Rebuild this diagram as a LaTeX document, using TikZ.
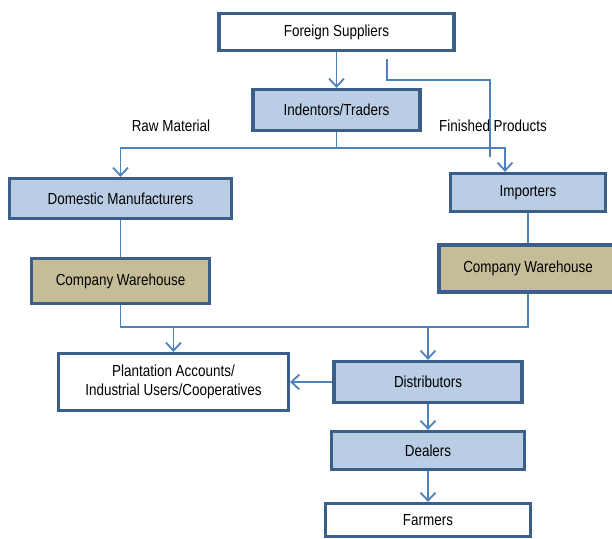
\documentclass[tikz,border=0pt]{standalone}
\usepackage{fontspec}
\setmainfont{Liberation Sans}[FakeStretch=0.84]
\usetikzlibrary{arrows.meta}

\definecolor{boxline}{HTML}{3C5E8B}
\definecolor{linkblue}{HTML}{4F81BD}
\definecolor{paleblue}{HTML}{B9CDE5}
\definecolor{warehousetan}{HTML}{C4BD97}

\tikzset{
  chart/.style={draw=boxline, line width=3.2pt, inner sep=0pt, align=center,
    font=\fontsize{16}{19.5}\selectfont},
  agent/.style={chart, fill=paleblue},
  store/.style={chart, fill=warehousetan},
  plain/.style={chart, fill=white},
  flow/.style={draw=linkblue, line width=1.8pt},
  feed/.style={flow, -{Straight Barb[length=8pt,width=15pt]}},
  tag/.style={font=\fontsize{16}{19.5}\selectfont}
}

\begin{document}
\begin{tikzpicture}[x=1pt, y=-1pt]
          \useasboundingbox (0,0) rectangle (612,538);

          \node (fs)  at (336.5, 32)   [plain, minimum width=235, minimum height=37] {Foreign Suppliers};
          \node (it)  at (336.5,110)   [agent, minimum width=167, minimum height=41] {Indentors/Traders};

          \node (rawlbl) at (171,126) [tag] {Raw Material};
          \node (finlbl) at (493,126) [tag] {Finished Products};

          \node (dm)  at (120.5,198.5) [agent, minimum width=222, minimum height=40] {Domestic Manufacturers};
          \node (cw1) at (120.5,281)   [store, minimum width=178, minimum height=45] {Company Warehouse};
          \node (im)  at (528,192.5)   [agent, minimum width=155, minimum height=38] {Importers};
          \node (cw2) at (528,268.5)   [store, minimum width=178, minimum height=47] {Company Warehouse};

          \node (pl)  at (173.5,382)   [plain, minimum width=230, minimum height=57] {Plantation Accounts/\\Industrial Users/Cooperatives};
          \node (di)  at (428,382)     [agent, minimum width=188, minimum height=41] {Distributors};
          \node (de)  at (428,450.5)   [agent, minimum width=193, minimum height=38] {Dealers};
          \node (fa)  at (428,520)     [plain, minimum width=205, minimum height=33] {Farmers};

          \coordinate (fptop)  at (387, 59);
          \coordinate (fpbend) at (490, 80);
          \coordinate (fpend)  at (490,157);
          \coordinate (tradesplit) at (336.5,148);
          \coordinate (bus) at (428,327);

          \draw[feed] (fs) -- (it);
          \draw[flow] (fptop) |- (fpbend) -- (fpend);
          \draw[flow] (it) -- (tradesplit);
          \draw[feed] (tradesplit) -| (dm.north);
          \draw[feed] (tradesplit) -| ([xshift=-23pt]im.north);

          \draw[flow] (dm) -- (cw1);
          \draw[flow] (im) -- (cw2);
          \draw[flow] (cw1.south) |- (bus) -| (cw2.south);
          \draw[feed] (bus) -- (di);
          \draw[feed] (bus -| pl.north) -- (pl);

          \draw[feed] (di) -- (pl);
          \draw[feed] (di) -- (de);
          \draw[feed] (de) -- (fa);
        \end{tikzpicture}
\end{document}
